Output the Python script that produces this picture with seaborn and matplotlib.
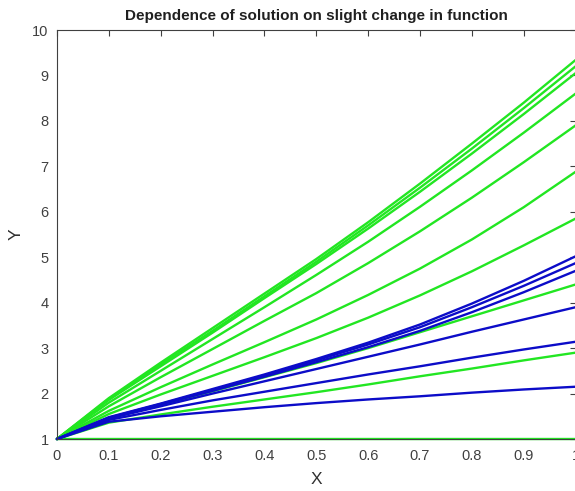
import numpy as np
import pandas as pd
import matplotlib
matplotlib.use("Agg")
import matplotlib.pyplot as plt
import seaborn as sns

x_vals = [0.0, 0.1, 0.2, 0.3, 0.4, 0.5, 0.6, 0.7, 0.8, 0.9, 1.0]

green_curves = {
    "g1": [1, 1.90, 2.68, 3.44, 4.20, 4.96, 5.77, 6.62, 7.50, 8.40, 9.34],
    "g2": [1, 1.88, 2.64, 3.38, 4.14, 4.90, 5.70, 6.53, 7.39, 8.28, 9.20],
    "g3": [1, 1.86, 2.60, 3.34, 4.10, 4.85, 5.63, 6.44, 7.28, 8.15, 9.05],
    "g4": [1, 1.80, 2.50, 3.20, 3.90, 4.61, 5.34, 6.11, 6.91, 7.74, 8.60],
    "g5": [1, 1.72, 2.36, 2.98, 3.60, 4.21, 4.87, 5.57, 6.31, 7.09, 7.90],
    "g6": [1, 1.62, 2.14, 2.64, 3.13, 3.63, 4.17, 4.75, 5.39, 6.10, 6.88],
    "g7": [1, 1.55, 1.98, 2.39, 2.80, 3.22, 3.67, 4.16, 4.69, 5.26, 5.85],
    "g8": [1, 1.45, 1.75, 2.05, 2.36, 2.67, 3.00, 3.35, 3.70, 4.05, 4.40],
    "g9": [1, 1.36, 1.54, 1.71, 1.87, 2.03, 2.20, 2.38, 2.55, 2.73, 2.90],
    "g10": [1, 1, 1, 1, 1, 1, 1, 1, 1, 1, 1],
}

blue_curves = {
    "b1": [1, 1.48, 1.78, 2.10, 2.42, 2.76, 3.12, 3.52, 3.98, 4.48, 5.02],
    "b2": [1, 1.47, 1.77, 2.08, 2.40, 2.73, 3.08, 3.46, 3.90, 4.37, 4.87],
    "b3": [1, 1.46, 1.76, 2.06, 2.37, 2.69, 3.02, 3.38, 3.79, 4.23, 4.70],
    "b4": [1, 1.45, 1.72, 2.00, 2.27, 2.54, 2.81, 3.08, 3.36, 3.63, 3.90],
    "b5": [1, 1.42, 1.64, 1.85, 2.04, 2.23, 2.42, 2.60, 2.79, 2.97, 3.14],
    "b6": [1, 1.38, 1.50, 1.60, 1.70, 1.79, 1.87, 1.94, 2.02, 2.09, 2.15],
}

x_ticks = [0, 0.1, 0.2, 0.3, 0.4, 0.5, 0.6, 0.7, 0.8, 0.9, 1]
x_ticklabels = ["0", "0.1", "0.2", "0.3", "0.4", "0.5", "0.6", "0.7", "0.8", "0.9", "1"]
y_ticks = [1, 2, 3, 4, 5, 6, 7, 8, 9, 10]

GREEN = "#22e622"
BLUE = "#0c0cc8"

rows = []
for name, ys in green_curves.items():
    for xv, yv in zip(x_vals, ys):
        rows.append((name, xv, yv))
for name, ys in blue_curves.items():
    for xv, yv in zip(x_vals, ys):
        rows.append((name, xv, yv))
df = pd.DataFrame(rows, columns=["curve", "x", "y"])

palette = {n: GREEN for n in green_curves}
palette.update({n: BLUE for n in blue_curves})

sns.set_theme(style="white")
plt.rcParams["font.family"] = ["Liberation Sans", "DejaVu Sans"]

fig = plt.figure(figsize=(5.75, 4.91), dpi=100)
ax = fig.add_axes([0.0991, 0.1059, 0.9019, 0.8330])

sns.lineplot(data=df, x="x", y="y", hue="curve", palette=palette,
             hue_order=list(green_curves) + list(blue_curves),
             estimator=None, sort=False, legend=False, linewidth=1.7, ax=ax)
for ln in ax.get_lines():
    ln.set_clip_on(False)
    ln.set_solid_joinstyle("round")

ax.set_xlim(0, 1)
ax.set_ylim(1, 10)
ax.set_xticks(x_ticks)
ax.set_xticklabels(x_ticklabels)
ax.set_yticks(y_ticks)
axcol = "#404040"
ax.tick_params(direction="in", length=4, width=0.8, colors=axcol,
               labelsize=10.5, top=True, right=True, labelcolor="#404040")
ax.tick_params(axis="x", pad=7)
ax.tick_params(axis="y", pad=6)
for s in ax.spines.values():
    s.set_color(axcol)
    s.set_linewidth(0.8)
    s.set_visible(True)
ax.set_xlabel("X", fontsize=12.5, color="#303030", labelpad=7)
ax.set_ylabel("Y", fontsize=12.5, color="#303030", labelpad=6)
ax.set_title("Dependence of solution on slight change in function",
             fontsize=11, fontweight="bold", color="#202020", pad=7)

fig.savefig("out.png", dpi=100)
